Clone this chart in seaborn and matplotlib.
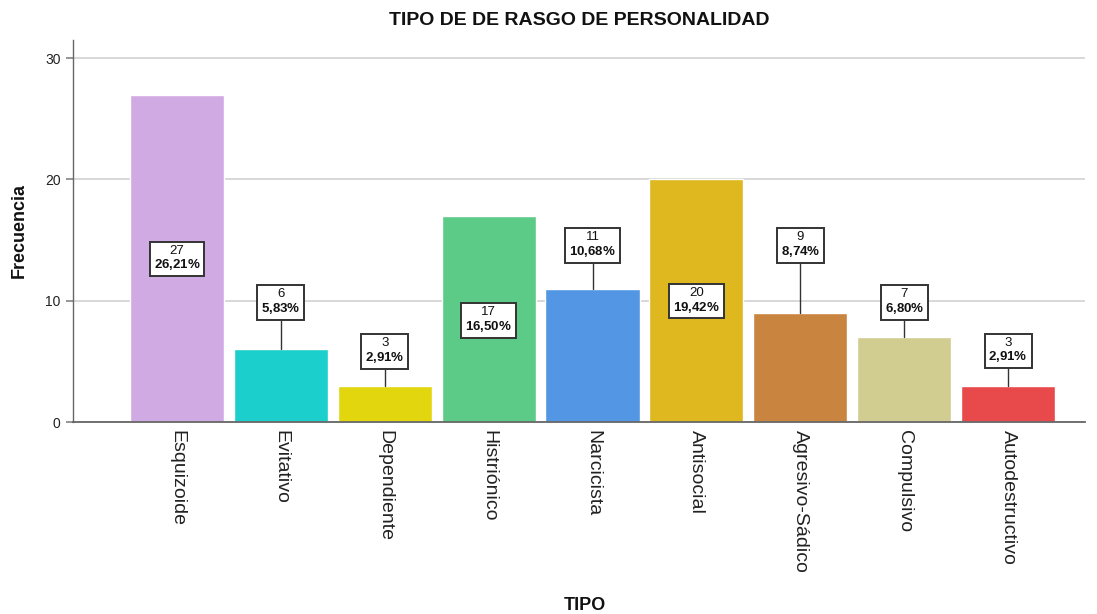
import matplotlib
matplotlib.use("Agg")
import matplotlib.pyplot as plt
import pandas as pd
import seaborn as sns

categorias = [
    "Esquizoide", "Evitativo", "Dependiente", "Histriónico", "Narcicista",
    "Antisocial", "Agresivo-Sádico", "Compulsivo", "Autodestructivo",
]
frecuencias = [27, 6, 3, 17, 11, 20, 9, 7, 3]
porcentajes = ["26,21", "5,83", "2,91", "16,50", "10,68",
               "19,42", "8,74", "6,80", "2,91"]
colores = ["#D0AAE3", "#1BCFCD", "#E2D70F", "#5DCB88", "#5396E3",
           "#DEB81E", "#C9843F", "#D1CC8F", "#E84A4C"]

# altura (en unidades del eje) del centro de cada caja de etiqueta
altura_etiqueta = [13.5, 9.9, 5.85, 8.4, 14.6, 10.0, 14.6, 9.9, 5.9]

sns.set_theme(style="white")
plt.rcParams["font.family"] = ["Liberation Sans", "DejaVu Sans"]
plt.rcParams["mathtext.fontset"] = "custom"
plt.rcParams["mathtext.rm"] = "Liberation Sans"
plt.rcParams["mathtext.bf"] = "Liberation Sans:bold"

df = pd.DataFrame({"Tipo": categorias, "Frecuencia": frecuencias})

fig = plt.figure(figsize=(10.97, 6.14), dpi=100)
ax = fig.add_axes([73 / 1097, 1 - 422 / 614, (1085 - 73) / 1097, (422 - 40) / 614])

ax.yaxis.grid(True, color="#D6D6D6", linewidth=1.3, zorder=0)
ax.set_axisbelow(True)

sns.barplot(data=df, x="Tipo", y="Frecuencia", hue="Tipo", palette=colores,
            legend=False, width=0.905, saturation=1, ax=ax, zorder=2)

for i, (f, p, y) in enumerate(zip(frecuencias, porcentajes, altura_etiqueta)):
    if y > f:
        ax.plot([i, i], [f, y], color="#333333", linewidth=1.0, zorder=3)
    etiqueta = f"{f}\n" + r"$\mathbf{" + p.replace(",", "{,}") + r"\%}$"
    ax.text(i, y, etiqueta, ha="center", va="center", ma="center",
            fontsize=9.5, color="#111111", linespacing=1.05, zorder=4,
            bbox=dict(boxstyle="square,pad=0.3", fc="white", ec="#333333", lw=1.4))

ax.set_xlim(-1, 8.74)
ax.set_ylim(0, 31.5)
ax.set_yticks([0, 10, 20, 30])
ax.tick_params(axis="y", labelsize=10, length=5, color="#888888", left=True,
               labelcolor="#222222", pad=4)
ax.tick_params(axis="x", length=0, labelsize=14, labelcolor="#222222", pad=6)
for lab in ax.get_xticklabels():
    lab.set_rotation(270)
    lab.set_ha("center")
    lab.set_va("top")

for s in ["top", "right"]:
    ax.spines[s].set_visible(False)
ax.spines["left"].set_color("#666666")
ax.spines["bottom"].set_color("#666666")
ax.spines["left"].set_linewidth(1.0)
ax.spines["bottom"].set_linewidth(1.3)

ax.set_title("TIPO DE DE RASGO DE PERSONALIDAD", fontsize=14,
             fontweight="bold", color="#111111", pad=11)
ax.set_ylabel("Frecuencia", fontsize=13, fontweight="bold", color="#111111")
ax.yaxis.set_label_coords(-0.045, 0.5)
ax.set_xlabel("")
fig.text(585 / 1097, 1 - 605 / 614, "TIPO", ha="center", va="center",
         fontsize=13, fontweight="bold", color="#111111")

fig.savefig("out.png", dpi=100, facecolor="white")
